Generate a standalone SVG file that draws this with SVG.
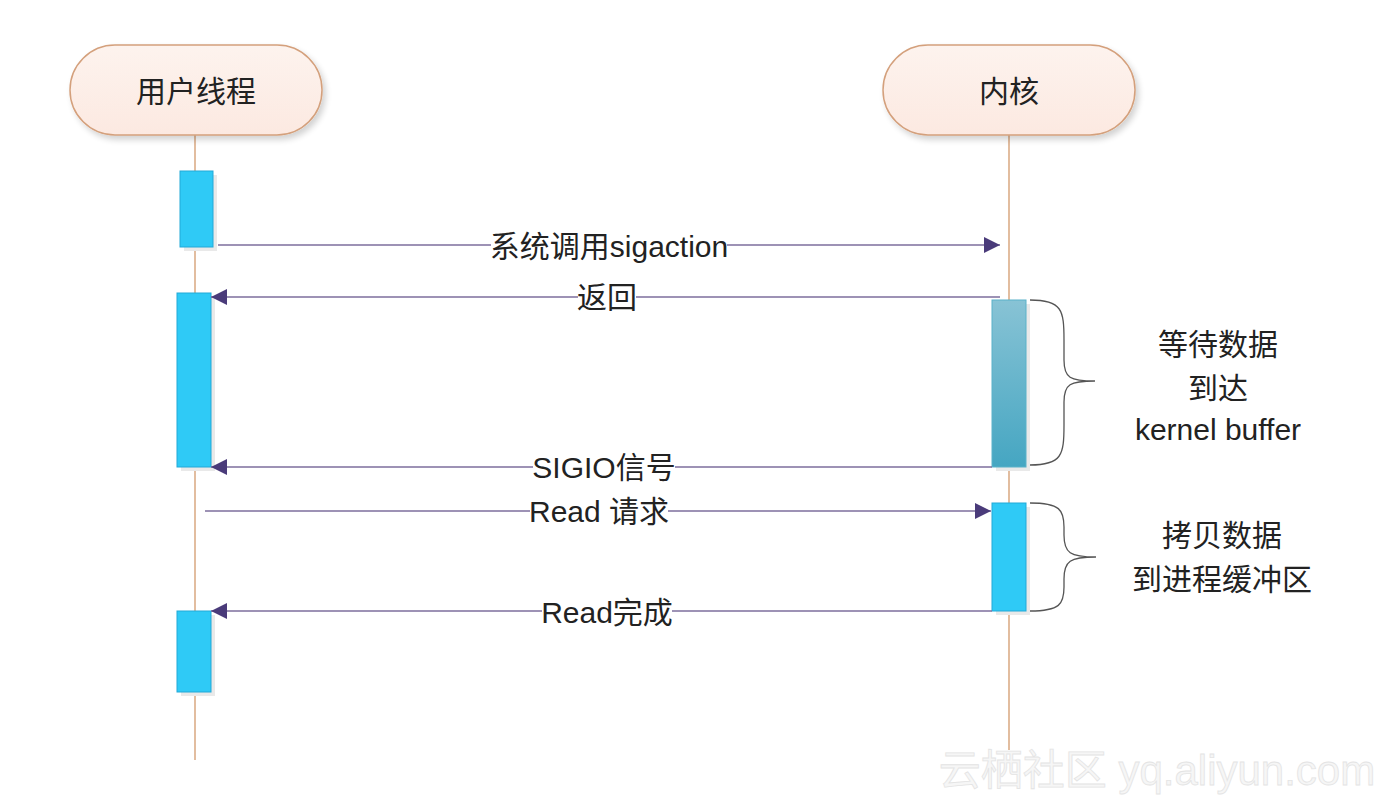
<svg xmlns="http://www.w3.org/2000/svg" width="1400" height="800" viewBox="0 0 1400 800">
<style>
.t{font-family:"Liberation Sans","Noto Sans CJK SC",Arial,sans-serif;font-size:30px;fill:#222;text-anchor:middle;dominant-baseline:central}
.life{stroke:#d39a6c;stroke-width:1.3;fill:none}
.msg{stroke:#7d6e9c;stroke-width:1.3;fill:none}
.hdr{fill:url(#hg);stroke:#d4a07c;stroke-width:1.5}
.act{fill:#2fcaf6;stroke:#22a9d8;stroke-width:1}
.sh{fill:#e9e9e9}
.brace{stroke:#555;stroke-width:1.3;fill:none}
.bg{fill:#fff}
</style>
<defs>
<linearGradient id="hg" x1="0" y1="0" x2="0" y2="1"><stop offset="0" stop-color="#fdf3ee"/><stop offset="1" stop-color="#fce9e1"/></linearGradient>
<linearGradient id="bg2" x1="0" y1="0" x2="0" y2="1"><stop offset="0" stop-color="#88c3d5"/><stop offset="1" stop-color="#45a6c2"/></linearGradient>
<filter id="ds" x="-10%" y="-10%" width="130%" height="140%"><feGaussianBlur in="SourceAlpha" stdDeviation="3"/><feOffset dx="3" dy="4"/><feComponentTransfer><feFuncA type="linear" slope="0.18"/></feComponentTransfer><feMerge><feMergeNode/><feMergeNode in="SourceGraphic"/></feMerge></filter>
<marker id="ah" viewBox="0 0 10 10" refX="10" refY="5" markerWidth="16" markerHeight="16" markerUnits="userSpaceOnUse" orient="auto"><path d="M0,0 L10,5 L0,10 Z" fill="#4a3b7a"/></marker>
</defs>
<rect width="1400" height="800" fill="#fff"/>
<g id="lifelines">
<line class="life" x1="195" y1="135" x2="195" y2="760"/>
<line class="life" x1="1009" y1="135" x2="1009" y2="750"/>
</g>
<g id="node-user">
<rect class="hdr" x="70" y="45" width="252" height="90" rx="45" filter="url(#ds)"/>
<text class="t" x="196" y="91">用户线程</text>
</g>
<g id="node-kernel">
<rect class="hdr" x="883" y="45" width="252" height="90" rx="45" filter="url(#ds)"/>
<text class="t" x="1009" y="91">内核</text>
</g>
<g id="activations">
<rect class="sh" x="184" y="175" width="33" height="76"/>
<rect class="act" x="180" y="171" width="33" height="76"/>
<rect class="sh" x="181" y="297" width="34" height="174"/>
<rect class="act" x="177" y="293" width="34" height="174"/>
<rect class="sh" x="181" y="615" width="34" height="81"/>
<rect class="act" x="177" y="611" width="34" height="81"/>
<rect class="sh" x="996" y="304" width="34" height="167"/>
<rect x="992" y="300" width="34" height="167" fill="url(#bg2)" stroke="#5ab2c9" stroke-width="1"/>
<rect class="sh" x="996" y="507" width="34" height="108"/>
<rect class="act" x="992" y="503" width="34" height="108"/>
</g>
<g id="connectors">
<line class="msg" x1="218" y1="245" x2="1000" y2="245" marker-end="url(#ah)"/>
<line class="msg" x1="1000" y1="297" x2="211" y2="297" marker-end="url(#ah)"/>
<line class="msg" x1="992" y1="467" x2="211" y2="467" marker-end="url(#ah)"/>
<line class="msg" x1="205" y1="511" x2="991" y2="511" marker-end="url(#ah)"/>
<line class="msg" x1="992" y1="611" x2="211" y2="611" marker-end="url(#ah)"/>
</g>
<g id="labels">
<rect class="bg" x="491" y="232" width="236" height="28"/>
<text class="t" x="609" y="246">系统调用sigaction</text>
<rect class="bg" x="578" y="284" width="58" height="28"/>
<text class="t" x="607" y="297">返回</text>
<rect class="bg" x="533" y="453" width="142" height="28"/>
<text class="t" x="604" y="467">SIGIO信号</text>
<rect class="bg" x="530" y="497" width="138" height="28"/>
<text class="t" x="599" y="511">Read 请求</text>
<rect class="bg" x="542" y="598" width="130" height="28"/>
<text class="t" x="607" y="612">Read完成</text>
</g>
<g id="brace-wait">
<path class="brace" d="M1030,300 C1062,300 1064,310 1064,340 L1064,360 C1064,378 1070,381 1095,381 C1070,381 1064,384 1064,402 L1064,425 C1064,455 1062,465 1030,465"/>
<text class="t" x="1218" y="344">等待数据</text>
<text class="t" x="1218" y="388">到达</text>
<text class="t" x="1218" y="429">kernel buffer</text>
</g>
<g id="brace-copy">
<path class="brace" d="M1030,503 C1060,503 1064,510 1064,527 L1064,535 C1064,553 1070,557 1096,557 C1070,557 1064,561 1064,579 L1064,587 C1064,604 1060,611 1030,611"/>
<text class="t" x="1222" y="535">拷贝数据</text>
<text class="t" x="1222" y="579">到进程缓冲区</text>
</g>
<g id="watermark">
<text x="1157" y="770" style="font-family:'Liberation Sans','Noto Sans CJK SC',sans-serif;font-size:42px;fill:#f6f6f6;stroke:#e4e4e4;stroke-width:0.8;text-anchor:middle;dominant-baseline:central">云栖社区 yq.aliyun.com</text>
</g>
</svg>
